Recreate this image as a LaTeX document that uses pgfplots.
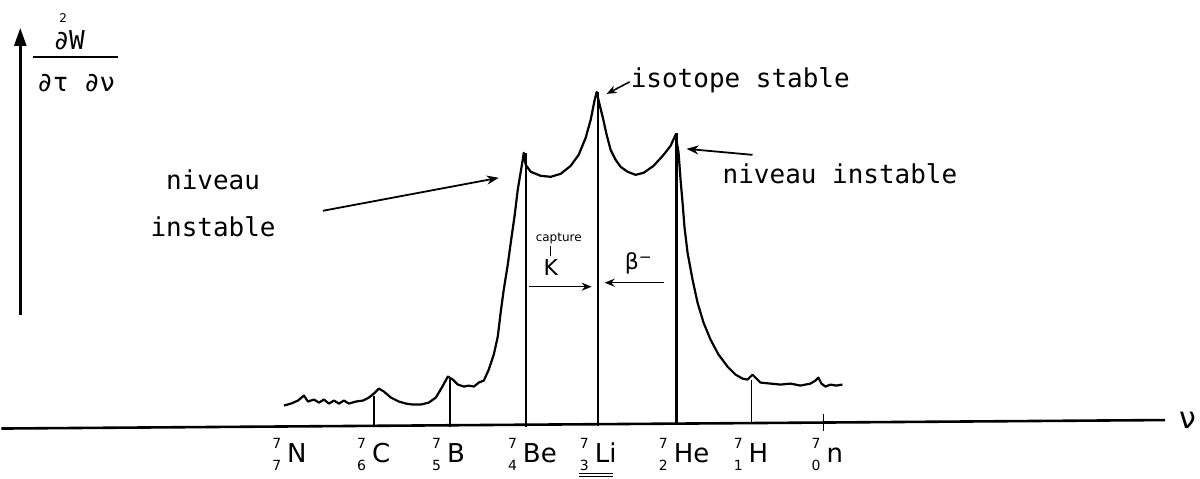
\documentclass[border=0pt]{standalone}
\usepackage{pgfplots}
\pgfplotsset{compat=1.18}
\usepackage{fontspec}
\setmainfont{DejaVu Sans}
\newfontfamily\mono{DejaVu Sans Mono}
\usetikzlibrary{arrows.meta}
\newcommand{\elem}[3]{\node[anchor=base west, inner sep=0pt] at (axis cs:#1,463) {\fontsize{26}{26}\selectfont\llap{\fontsize{14}{14}\selectfont\rlap{\raisebox{14pt}{7}}\raisebox{-8pt}{#2}\hspace{6pt}}#3};}
\begin{document}
\begin{tikzpicture}
\begin{axis}[scale only axis, width=1200pt, height=479pt,
  xmin=0, xmax=1200, ymin=0, ymax=479, y dir=reverse,
  hide axis, clip=false]
\path (axis cs:0,0) rectangle (axis cs:1200,479);
% spectrum
\addplot[black, line width=2.2pt, line join=round] coordinates {
(283,406) (290,404) (297,401) (303,396) (307,402) (313,400) (318,403) (323,400)
(328,404) (333,401) (338,404) (343,401) (348,404) (355,402) (362,401) (368,398)
(373,394) (378,389) (383,392) (390,398) (398,402) (405,404) (412,405) (420,405)
(428,403) (435,398) (441,388) (447,377) (452,380) (457,385) (463,387) (468,386)
(473,387) (478,383) (483,381) (488,370) (493,355) (497,337) (500,312) (503,290)
(507,265) (510,243) (514,215) (517,190) (520,172) (522,160) (523,153) (525,165)
(530,172) (540,176) (550,177) (560,174) (570,166) (578,155) (585,138) (590,120)
(594,100) (596,92) (599,105) (602,117) (606,135) (610,150) (615,160) (620,167)
(627,172) (635,175) (643,173) (653,166) (663,155) (670,146) (675,135) (678,153)
(680,180) (682,203) (684,228) (687,253) (692,280) (697,303) (703,323) (710,340)
(718,355) (727,367) (735,375) (742,379) (747,380) (752,375) (755,378) (760,383)
(770,384) (780,385) (790,384) (800,386) (810,384) (815,381) (818,378) (821,384)
(825,387) (830,385) (836,386) (842,385)};
% vertical lines at the isotopes
\addplot[black, line width=1.8pt] coordinates {(373,396) (373,427)};
\addplot[black, line width=1.8pt] coordinates {(449,378) (449,427)};
\addplot[black, line width=1.8pt] coordinates {(525,153) (525,427)};
\addplot[black, line width=1.8pt] coordinates {(597,92) (597,426)};
\addplot[black, line width=2.4pt] coordinates {(676,133) (676,424)};
\addplot[black, line width=1.8pt] coordinates {(751,380) (751,423)};
\addplot[black, line width=1.8pt] coordinates {(823,414) (823,431)};
% x axis
\addplot[black, line width=2.6pt] coordinates {(0,429) (1165,420.5)};
\node[anchor=west, inner sep=0pt] at (axis cs:1179,421) {\fontsize{30}{30}\selectfont ν};
% y axis
\draw[line width=2.6pt, -{Triangle[length=18pt,width=12pt]}] (axis cs:19,315) -- (axis cs:19,28);
% y label
\node[anchor=base, inner sep=0pt] at (axis cs:68,50) {\mono\fontsize{26}{26}\selectfont ∂W};
\node[inner sep=0pt] at (axis cs:62,18) {\fontsize{12}{12}\selectfont 2};
\draw[line width=2pt] (axis cs:32,57) -- (axis cs:117,57);
\node[anchor=base, inner sep=0pt] at (axis cs:75,92) {\mono\fontsize{26}{26}\selectfont ∂τ ∂ν};
% annotations
\node[anchor=base west, inner sep=0pt] at (axis cs:630,88) {\mono\fontsize{26}{26}\selectfont isotope stable};
\draw[line width=1.6pt, -{Stealth[length=10pt,width=8pt]}] (axis cs:629,82) -- (axis cs:606,94);
\node[anchor=base west, inner sep=0pt] at (axis cs:722,184) {\mono\fontsize{26}{26}\selectfont niveau instable};
\draw[line width=1.8pt, -{Stealth[length=12pt,width=9pt]}] (axis cs:752,155) -- (axis cs:686,149);
\node[anchor=base, inner sep=0pt] at (axis cs:212,190) {\mono\fontsize{26}{26}\selectfont niveau};
\node[anchor=base, inner sep=0pt] at (axis cs:212,237) {\mono\fontsize{26}{26}\selectfont instable};
\draw[line width=1.8pt, -{Stealth[length=12pt,width=9pt]}] (axis cs:322,211) -- (axis cs:498,178);
% capture K / beta-
\node[inner sep=0pt] at (axis cs:558,239) {\fontsize{12}{12}\selectfont capture};
\draw[line width=1pt] (axis cs:550,246) -- (axis cs:550,256);
\node[inner sep=0pt] at (axis cs:550,268) {\fontsize{22}{22}\selectfont K};
\node[inner sep=0pt] at (axis cs:638,264) {\fontsize{22}{22}\selectfont β\textsuperscript{−}};
\draw[line width=1.5pt, -{Stealth[length=10pt,width=8pt]}] (axis cs:528,287) -- (axis cs:591,287);
\draw[line width=1.5pt, -{Stealth[length=10pt,width=8pt]}] (axis cs:663,283) -- (axis cs:604,283);
% isotope labels
\elem{286}{7}{N}
\elem{371}{6}{C}
\elem{446}{5}{B}
\elem{522}{4}{Be}
\elem{594}{3}{Li}
\elem{673}{2}{He}
\elem{748}{1}{H}
\elem{826}{0}{n}
\draw[line width=1.2pt] (axis cs:578,474) -- (axis cs:612,474);
\draw[line width=1.2pt] (axis cs:578,477) -- (axis cs:612,477);
\end{axis}
\end{tikzpicture}
\end{document}
